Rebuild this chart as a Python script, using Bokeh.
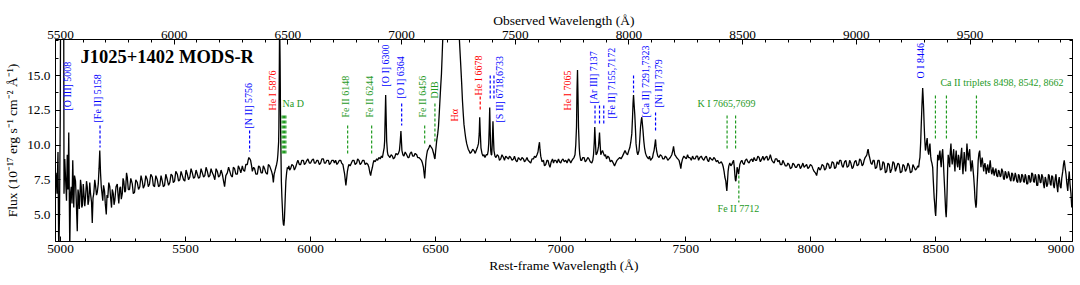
import math
from bokeh.plotting import figure
from bokeh.models import (Range1d, LinearAxis, SingleIntervalTicker, FixedTicker, PrintfTickFormatter,
                          Label, ColumnDataSource, CustomJSTickFormatter)
from bokeh.embed import file_html
from bokeh.resources import INLINE

# ---------------- data ----------------
wave = [4982, 4986, 4990, 4993, 4996, 4999, 5002, 5005, 5008, 5011, 5014, 5017, 5020, 5024, 5027, 5030,
        5033, 5037, 5040, 5043, 5046, 5049, 5053, 5056, 5060, 5063, 5067, 5070, 5072, 5075, 5077, 5080,
        5083, 5085, 5088, 5091, 5093, 5097, 5100, 5104, 5107, 5110, 5113, 5117, 5120, 5124, 5127, 5130,
        5133, 5137, 5140, 5144, 5147, 5151, 5154, 5157, 5160, 5163, 5166, 5169, 5172, 5176, 5179, 5183,
        5186, 5189, 5193, 5197, 5200, 5204, 5207, 5211, 5214, 5217, 5222, 5227, 5230, 5233, 5237, 5240,
        5243, 5247, 5250, 5253, 5257, 5260, 5264, 5267, 5271, 5276, 5281, 5287, 5291, 5296, 5301, 5307,
        5312, 5317, 5322, 5327, 5331, 5336, 5341, 5347, 5351, 5356, 5361, 5367, 5371, 5376, 5381, 5387,
        5392, 5397, 5402, 5407, 5411, 5416, 5421, 5427, 5432, 5437, 5442, 5447, 5451, 5456, 5461, 5467,
        5472, 5477, 5482, 5487, 5492, 5497, 5502, 5507, 5512, 5517, 5522, 5527, 5532, 5537, 5542, 5547,
        5552, 5557, 5562, 5567, 5572, 5577, 5582, 5587, 5592, 5597, 5602, 5607, 5612, 5617, 5622, 5627,
        5632, 5637, 5642, 5647, 5651, 5656, 5661, 5667, 5672, 5677, 5682, 5687, 5691, 5696, 5701, 5707,
        5711, 5716, 5721, 5727, 5731, 5736, 5741, 5747, 5750, 5753, 5757, 5760, 5764, 5767, 5772, 5776,
        5781, 5787, 5792, 5797, 5802, 5807, 5811, 5816, 5821, 5827, 5831, 5836, 5840, 5844, 5848, 5851,
        5854, 5857, 5861, 5864, 5867, 5869, 5872, 5873, 5875, 5876, 5878, 5880, 5883, 5885, 5887, 5889,
        5891, 5893, 5895, 5897, 5899, 5901, 5904, 5907, 5910, 5913, 5916, 5920, 5925, 5931, 5935, 5940,
        5945, 5949, 5955, 5960, 5965, 5971, 5975, 5980, 5985, 5989, 5995, 6000, 6005, 6011, 6015, 6020,
        6025, 6029, 6035, 6040, 6045, 6051, 6055, 6060, 6065, 6071, 6075, 6080, 6085, 6091, 6095, 6100,
        6105, 6109, 6115, 6120, 6124, 6129, 6133, 6136, 6139, 6141, 6144, 6147, 6150, 6153, 6158, 6163,
        6168, 6173, 6178, 6184, 6188, 6193, 6198, 6203, 6208, 6213, 6218, 6224, 6229, 6233, 6237, 6240,
        6243, 6247, 6250, 6253, 6258, 6264, 6268, 6273, 6278, 6283, 6287, 6291, 6294, 6296, 6298, 6300,
        6302, 6304, 6307, 6309, 6313, 6317, 6322, 6327, 6331, 6336, 6341, 6347, 6351, 6355, 6358, 6361,
        6363, 6365, 6369, 6373, 6378, 6384, 6389, 6393, 6398, 6403, 6408, 6413, 6418, 6424, 6428, 6433,
        6438, 6443, 6447, 6451, 6454, 6456, 6458, 6461, 6464, 6467, 6470, 6473, 6477, 6480, 6484, 6487,
        6490, 6493, 6495, 6497, 6500, 6504, 6508, 6511, 6514, 6517, 6520, 6523, 6526, 6530, 6540, 6552,
        6563, 6575, 6587, 6595, 6600, 6604, 6607, 6610, 6613, 6617, 6620, 6624, 6627, 6630, 6633, 6638,
        6643, 6648, 6653, 6658, 6664, 6668, 6671, 6674, 6676, 6678, 6681, 6685, 6689, 6693, 6697, 6702,
        6707, 6710, 6712, 6714, 6716, 6718, 6720, 6722, 6724, 6726, 6729, 6731, 6733, 6737, 6741, 6746,
        6751, 6755, 6760, 6765, 6771, 6775, 6780, 6785, 6791, 6795, 6800, 6805, 6811, 6815, 6820, 6825,
        6831, 6835, 6840, 6845, 6851, 6855, 6860, 6865, 6869, 6875, 6880, 6885, 6891, 6895, 6900, 6905,
        6909, 6912, 6915, 6917, 6920, 6925, 6931, 6935, 6940, 6945, 6949, 6953, 6957, 6962, 6967, 6971,
        6975, 6980, 6985, 6991, 6995, 7000, 7004, 7009, 7014, 7020, 7025, 7031, 7035, 7040, 7045, 7049,
        7053, 7057, 7060, 7063, 7065, 7067, 7069, 7071, 7074, 7076, 7080, 7084, 7088, 7093, 7098, 7103,
        7108, 7113, 7118, 7124, 7128, 7131, 7134, 7136, 7138, 7141, 7145, 7148, 7151, 7155, 7157, 7160,
        7164, 7167, 7171, 7175, 7179, 7183, 7188, 7193, 7198, 7204, 7210, 7215, 7220, 7225, 7230, 7236,
        7241, 7247, 7252, 7257, 7262, 7267, 7272, 7276, 7280, 7284, 7287, 7289, 7291, 7293, 7296, 7299,
        7301, 7305, 7308, 7313, 7316, 7319, 7322, 7324, 7327, 7329, 7332, 7335, 7339, 7343, 7347, 7351,
        7355, 7359, 7363, 7367, 7370, 7373, 7376, 7379, 7381, 7384, 7388, 7393, 7398, 7404, 7408, 7413,
        7418, 7423, 7428, 7433, 7438, 7444, 7448, 7451, 7454, 7456, 7460, 7463, 7468, 7473, 7477, 7480,
        7483, 7487, 7492, 7497, 7502, 7507, 7511, 7516, 7522, 7527, 7532, 7537, 7542, 7547, 7551, 7556,
        7562, 7567, 7572, 7577, 7582, 7587, 7591, 7596, 7601, 7607, 7612, 7617, 7622, 7627, 7632, 7636,
        7642, 7647, 7650, 7653, 7656, 7660, 7662, 7664, 7666, 7669, 7672, 7676, 7680, 7684, 7688, 7691,
        7694, 7696, 7698, 7700, 7703, 7705, 7708, 7711, 7713, 7716, 7720, 7724, 7728, 7733, 7738, 7743,
        7748, 7753, 7758, 7764, 7768, 7773, 7778, 7783, 7788, 7793, 7798, 7804, 7808, 7813, 7818, 7824,
        7828, 7833, 7838, 7844, 7848, 7853, 7858, 7864, 7868, 7873, 7878, 7884, 7888, 7893, 7898, 7904,
        7908, 7913, 7918, 7924, 7928, 7933, 7938, 7943, 7948, 7953, 7958, 7964, 7968, 7973, 7978, 7983,
        7988, 7993, 7998, 8004, 8008, 8013, 8018, 8023, 8027, 8031, 8036, 8040, 8045, 8051, 8055, 8060,
        8065, 8071, 8075, 8080, 8085, 8091, 8095, 8100, 8105, 8111, 8115, 8120, 8125, 8129, 8135, 8140,
        8145, 8151, 8155, 8160, 8165, 8169, 8175, 8180, 8185, 8191, 8195, 8200, 8205, 8209, 8213, 8217,
        8221, 8224, 8227, 8229, 8232, 8235, 8240, 8244, 8249, 8253, 8258, 8263, 8268, 8273, 8278, 8284,
        8288, 8293, 8298, 8303, 8308, 8313, 8318, 8324, 8328, 8333, 8338, 8343, 8348, 8353, 8358, 8364,
        8368, 8373, 8378, 8383, 8388, 8393, 8398, 8404, 8408, 8413, 8418, 8423, 8427, 8431, 8434, 8436,
        8439, 8441, 8444, 8447, 8449, 8451, 8453, 8455, 8458, 8460, 8463, 8465, 8468, 8471, 8474, 8476,
        8479, 8481, 8484, 8487, 8489, 8491, 8493, 8495, 8497, 8499, 8501, 8503, 8505, 8507, 8510, 8512,
        8514, 8516, 8519, 8521, 8524, 8527, 8530, 8532, 8535, 8537, 8539, 8541, 8543, 8545, 8547, 8549,
        8552, 8555, 8557, 8560, 8563, 8565, 8568, 8571, 8573, 8576, 8578, 8581, 8584, 8587, 8590, 8592,
        8595, 8597, 8600, 8603, 8605, 8608, 8611, 8613, 8616, 8619, 8621, 8624, 8627, 8629, 8632, 8635,
        8637, 8640, 8643, 8645, 8648, 8651, 8654, 8656, 8658, 8660, 8662, 8664, 8667, 8669, 8672, 8675,
        8677, 8680, 8682, 8685, 8688, 8691, 8693, 8696, 8699, 8701, 8704, 8707, 8709, 8712, 8715, 8717,
        8720, 8723, 8726, 8728, 8731, 8733, 8737, 8740, 8743, 8747, 8750, 8753, 8757, 8760, 8763, 8767,
        8770, 8773, 8777, 8780, 8783, 8787, 8790, 8793, 8797, 8800, 8803, 8807, 8810, 8813, 8817, 8820,
        8823, 8827, 8830, 8833, 8837, 8840, 8843, 8847, 8850, 8853, 8857, 8860, 8863, 8867, 8870, 8873,
        8877, 8880, 8883, 8887, 8890, 8893, 8897, 8900, 8903, 8907, 8910, 8913, 8917, 8920, 8923, 8927,
        8930, 8933, 8937, 8940, 8943, 8947, 8950, 8953, 8957, 8960, 8963, 8967, 8970, 8973, 8977, 8980,
        8983, 8987, 8990, 8993, 8997, 9000, 9003, 9007, 9010, 9013, 9017, 9020, 9023, 9027, 9030, 9033,
        9036, 9040, 9043]

flux = [8.0, 6.5, 9.5, 2.0, 5.0, 12.0, 30.0, 60.0, 80.0, 40.0, 6.5, 9.0, 7.7, 6.0, 9.3, 6.8,
        10.9, 2.5, 6.5, 7.0, 5.8, 8.9, 5.5, 7.8, 7.4, 6.0, 3.8, 6.8, 6.5, 5.4, 6.0, 7.5,
        7.0, 5.5, 5.7, 7.2, 6.7, 5.6, 6.2, 7.4, 7.0, 5.7, 6.0, 7.3, 6.5, 5.9, 4.4, 6.2,
        6.5, 7.5, 7.1, 6.4, 6.6, 7.2, 8.3, 9.6, 8.0, 7.0, 6.5, 6.0, 7.1, 6.7, 5.8, 5.0,
        6.4, 6.2, 7.3, 7.0, 6.3, 5.5, 6.8, 6.5, 5.7, 6.0, 7.0, 7.2, 6.4, 5.8, 6.9, 7.0,
        6.1, 6.5, 7.6, 7.4, 6.6, 6.7, 8.0, 7.7, 6.8, 6.8, 7.6, 7.2, 6.5, 6.6, 7.5, 7.3,
        6.8, 7.0, 7.8, 7.4, 6.9, 7.1, 7.8, 7.5, 7.0, 7.2, 7.9, 7.7, 7.1, 7.0, 7.8, 7.5,
        7.0, 7.1, 7.8, 7.4, 7.0, 7.1, 7.9, 7.5, 7.1, 7.3, 7.9, 7.8, 7.3, 7.4, 8.1, 7.9,
        7.4, 7.5, 8.1, 7.8, 7.5, 7.4, 8.2, 7.9, 7.5, 7.7, 8.3, 8.0, 7.6, 7.7, 8.2, 7.9,
        7.6, 7.7, 8.3, 8.0, 7.7, 7.8, 8.4, 8.1, 7.7, 7.8, 8.3, 8.0, 7.8, 7.5, 8.3, 8.1,
        7.7, 7.8, 8.2, 7.9, 7.5, 7.0, 7.8, 8.0, 8.4, 8.1, 7.8, 7.7, 8.4, 8.3, 7.9, 7.9,
        8.5, 8.3, 8.0, 8.5, 8.2, 8.1, 8.6, 8.6, 8.9, 9.1, 9.0, 8.9, 8.5, 8.1, 8.4, 8.3,
        7.9, 7.9, 8.5, 8.4, 8.0, 8.0, 8.5, 8.3, 8.0, 7.9, 8.6, 8.5, 8.3, 8.1, 7.8, 7.3,
        7.9, 8.1, 8.4, 8.6, 8.9, 9.3, 10.2, 11.2, 16.0, 19.0, 16.0, 11.2, 7.4, 6.3, 5.5, 4.7,
        4.3, 4.2, 4.6, 5.5, 6.5, 7.4, 8.0, 8.4, 8.3, 8.5, 8.2, 8.3, 8.6, 8.5, 8.2, 8.4,
        8.7, 8.9, 8.6, 8.6, 8.9, 8.9, 8.6, 8.7, 8.9, 9.0, 8.7, 8.7, 8.9, 9.0, 8.7, 8.7,
        8.9, 8.9, 8.6, 8.7, 9.0, 9.0, 8.7, 8.7, 8.9, 8.9, 8.6, 8.7, 8.9, 8.9, 8.7, 8.9,
        8.6, 8.7, 8.9, 8.9, 8.7, 8.6, 8.2, 7.9, 7.4, 7.1, 7.6, 8.1, 8.4, 8.6, 8.5, 8.7,
        8.9, 8.9, 8.6, 8.7, 9.0, 8.9, 8.6, 8.7, 8.9, 8.9, 8.6, 8.7, 8.6, 8.4, 8.0, 7.8,
        8.1, 8.4, 8.7, 8.9, 8.8, 9.0, 8.9, 9.1, 9.0, 9.2, 9.1, 9.5, 9.8, 10.3, 12.0, 13.6,
        12.0, 10.3, 9.5, 9.3, 9.2, 9.1, 9.3, 9.2, 9.0, 9.1, 9.4, 9.3, 9.4, 9.6, 10.2, 11.0,
        10.3, 9.6, 9.3, 9.2, 9.5, 9.3, 9.1, 9.1, 9.4, 9.5, 9.2, 9.2, 9.4, 9.3, 9.1, 9.1,
        9.0, 8.9, 8.7, 8.4, 7.9, 7.6, 8.1, 8.9, 9.3, 9.6, 9.7, 9.8, 10.0, 9.9, 9.8, 9.7,
        9.5, 9.3, 9.1, 9.0, 9.6, 10.3, 10.8, 11.3, 12.2, 13.2, 14.2, 15.1, 16.5, 18.5, 25.0, 38.0,
        45.0, 36.0, 22.0, 17.5, 15.8, 14.4, 13.2, 12.3, 11.5, 10.9, 10.5, 10.1, 9.9, 9.7, 9.6, 9.4,
        9.5, 9.7, 9.6, 9.4, 9.7, 9.9, 10.1, 10.8, 12.0, 11.0, 9.8, 9.4, 9.2, 9.3, 9.1, 9.3,
        9.3, 9.6, 10.1, 11.2, 12.7, 11.0, 9.6, 9.3, 9.3, 10.0, 11.7, 10.5, 9.6, 9.2, 9.1, 9.3,
        9.2, 8.9, 9.0, 9.3, 9.1, 8.9, 9.2, 9.1, 9.0, 9.2, 9.1, 8.9, 9.0, 9.2, 8.9, 8.8,
        9.1, 9.0, 8.9, 9.1, 9.0, 8.8, 8.9, 9.1, 8.9, 8.8, 8.7, 9.0, 9.0, 9.2, 9.1, 9.3,
        9.5, 9.9, 10.2, 9.7, 9.2, 8.8, 8.9, 8.5, 8.6, 8.9, 8.9, 8.6, 8.4, 8.8, 9.0, 8.7,
        8.9, 8.9, 8.7, 9.0, 8.8, 8.7, 8.9, 9.0, 8.8, 8.9, 8.7, 9.0, 8.9, 8.7, 8.9, 9.0,
        9.1, 9.3, 10.0, 11.3, 14.0, 15.4, 13.5, 11.3, 9.8, 9.3, 8.9, 8.9, 9.1, 9.1, 8.8, 8.9,
        9.1, 9.0, 8.8, 8.7, 8.9, 9.3, 10.2, 11.3, 10.5, 9.3, 9.4, 9.6, 9.9, 10.9, 10.2, 9.3,
        9.5, 9.6, 9.4, 9.2, 9.3, 9.0, 9.2, 9.1, 8.8, 8.9, 8.7, 8.5, 8.7, 8.9, 9.0, 9.1,
        9.0, 9.2, 9.4, 9.6, 9.4, 9.3, 9.6, 9.8, 10.2, 10.8, 12.0, 13.0, 13.6, 13.0, 12.2, 11.0,
        10.1, 9.5, 9.3, 9.6, 10.4, 11.3, 11.8, 12.0, 11.4, 11.0, 10.3, 9.8, 9.4, 9.2, 9.1, 9.0,
        9.2, 8.9, 9.0, 9.1, 9.4, 9.6, 10.0, 10.4, 9.9, 9.5, 9.2, 9.1, 9.3, 9.2, 9.0, 9.0,
        9.2, 9.1, 8.9, 9.0, 9.1, 9.3, 9.6, 9.9, 9.5, 9.3, 9.2, 9.1, 9.0, 8.9, 8.6, 8.3,
        8.7, 9.0, 9.2, 9.1, 9.0, 9.3, 9.1, 9.1, 8.9, 9.2, 9.0, 9.0, 9.2, 9.2, 8.9, 9.1,
        9.2, 9.0, 8.9, 9.1, 9.2, 8.9, 8.8, 9.1, 9.0, 8.9, 9.1, 9.0, 8.8, 8.9, 8.7, 8.7,
        8.8, 8.6, 8.4, 8.1, 7.7, 7.4, 7.0, 6.7, 7.2, 8.1, 8.5, 8.7, 8.5, 8.6, 8.8, 8.9,
        8.4, 7.9, 7.5, 7.4, 7.9, 8.4, 8.2, 7.9, 8.2, 8.6, 8.8, 8.9, 8.7, 8.6, 8.9, 9.0,
        8.8, 8.7, 8.9, 9.0, 8.8, 9.1, 8.9, 8.9, 9.2, 9.1, 8.8, 9.0, 9.2, 8.9, 9.1, 9.2,
        8.9, 9.0, 9.3, 8.9, 8.8, 8.7, 9.0, 9.0, 8.8, 8.9, 8.6, 8.6, 8.9, 8.7, 8.5, 8.5,
        8.7, 8.6, 8.3, 8.4, 8.7, 8.6, 8.4, 8.4, 8.6, 8.6, 8.3, 8.5, 8.7, 8.4, 8.5, 8.6,
        8.3, 8.4, 8.6, 8.5, 8.3, 8.1, 8.0, 7.8, 8.2, 8.4, 8.2, 8.3, 8.6, 8.5, 8.2, 8.3,
        8.7, 8.6, 8.3, 8.4, 8.8, 8.7, 8.3, 8.4, 8.8, 8.6, 8.9, 8.9, 8.5, 8.4, 8.8, 8.9,
        8.4, 8.5, 8.9, 8.7, 8.3, 8.4, 8.8, 8.9, 8.5, 8.6, 9.0, 8.9, 8.5, 8.6, 8.9, 9.1,
        9.2, 9.3, 9.6, 9.7, 9.3, 9.1, 8.7, 8.6, 8.9, 8.9, 8.3, 8.4, 8.9, 8.9, 8.2, 8.3,
        8.8, 8.7, 8.0, 8.1, 8.7, 8.6, 8.0, 8.3, 8.8, 8.7, 8.1, 8.4, 8.7, 8.6, 8.0, 8.1,
        8.6, 8.5, 8.1, 8.3, 8.7, 8.5, 8.0, 8.1, 8.6, 8.4, 8.2, 8.3, 8.5, 8.4, 8.9, 9.1,
        10.2, 11.3, 12.8, 14.1, 13.4, 12.5, 11.4, 10.5, 9.6, 9.8, 10.3, 10.5, 9.6, 9.3, 9.9, 10.1,
        9.2, 8.9, 8.7, 8.4, 7.6, 6.9, 6.2, 5.8, 5.2, 4.9, 5.7, 6.7, 8.2, 9.3, 9.0, 8.9,
        9.4, 9.6, 8.8, 8.4, 9.3, 9.7, 8.7, 7.9, 6.8, 6.0, 5.2, 4.8, 5.6, 6.9, 8.4, 9.3,
        8.9, 8.4, 9.4, 10.1, 9.0, 8.6, 9.2, 9.7, 8.8, 8.1, 9.0, 9.6, 8.7, 8.4, 9.3, 9.1,
        8.2, 8.6, 9.3, 9.8, 8.8, 7.9, 8.8, 9.5, 8.7, 8.1, 9.0, 10.1, 9.3, 8.9, 9.4, 9.7,
        8.9, 8.1, 8.6, 8.9, 8.3, 7.7, 6.9, 6.2, 5.8, 5.5, 5.8, 6.9, 8.0, 8.9, 9.4, 9.6,
        9.0, 8.4, 8.8, 9.1, 8.6, 8.1, 8.5, 8.7, 8.3, 7.9, 8.3, 8.6, 8.2, 8.0, 8.6, 8.9,
        8.3, 7.9, 8.1, 8.4, 8.0, 7.8, 8.2, 8.3, 7.8, 7.7, 8.2, 8.1, 7.7, 7.8, 8.3, 8.1,
        7.6, 7.5, 8.1, 8.0, 7.6, 7.7, 8.1, 7.9, 7.5, 7.4, 8.0, 7.9, 7.4, 7.5, 8.0, 7.8,
        7.4, 7.3, 7.9, 7.8, 7.3, 7.4, 7.9, 7.8, 7.4, 7.3, 7.9, 7.7, 7.2, 7.2, 7.8, 7.8,
        7.3, 7.4, 8.0, 7.9, 7.4, 7.3, 7.9, 7.7, 7.1, 7.1, 7.9, 7.8, 7.3, 7.3, 7.9, 7.7,
        7.2, 6.9, 7.7, 7.5, 7.0, 7.2, 7.9, 7.8, 7.2, 7.1, 7.8, 7.7, 7.1, 6.9, 7.6, 7.9,
        7.2, 6.6, 7.4, 7.7, 7.0, 6.9, 7.6, 8.1, 8.6, 8.9, 8.3, 7.9, 7.3, 6.7, 7.5, 8.1,
        7.2, 6.5, 5.5]

redshift = 0.1
rest_tick_step = 500
obs_ticks = [5500, 6000, 6500, 7000, 7500, 8000, 8500, 9000, 9500]
obs_minor = [5600, 5700, 5800, 5900, 6100, 6200, 6300, 6400, 6600, 6700, 6800, 6900,
             7100, 7200, 7300, 7400, 7600, 7700, 7800, 7900, 8100, 8200, 8300, 8400,
             8600, 8700, 8800, 8900, 9100, 9200, 9300, 9400, 9600, 9700, 9800, 9900]
flux_major = [5.0, 7.5, 10.0, 12.5, 15.0]
flux_minor = [3.75, 6.25, 8.75, 11.25, 13.75, 16.25, 17.5]

# ---------------- annotation table (text, wavelength/position, colour) ----------------
BLUE, RED, GREEN = "#0000ff", "#ff0000", "#1f9a1f"

# vertical labels: text, x (A), y bottom (flux), colour
vlabels = [
    ("[O III] 5008", 5028, 12.48, BLUE),
    ("[Fe II] 5158", 5148, 11.62, BLUE),
    ("[N II] 5756", 5752, 11.19, BLUE),
    ("He I 5876", 5848, 12.48, RED),
    ("Fe II 6148", 6139, 11.98, GREEN),
    ("Fe II 6244", 6235, 11.98, GREEN),
    ("[O I] 6300", 6299, 14.2, BLUE),
    ("[O I] 6364", 6359, 13.35, BLUE),
    ("Fe II 6456", 6447, 11.98, GREEN),
    ("DIB", 6495, 13.35, GREEN),
    ("H\u03b1", 6575, 11.69, RED),
    ("He I 6678", 6671, 13.56, RED),
    ("[S II] 6718,6733", 6755, 11.62, BLUE),
    ("He I 7065", 7027, 12.48, RED),
    ("[Ar III] 7137", 7131, 12.99, BLUE),
    ("[Fe II] 7155,7172", 7203, 11.91, BLUE),
    ("[Ca II] 7291,7323", 7339, 11.98, BLUE),
    ("[Ni II] 7379", 7391, 12.70, BLUE),
    ("O I 8446", 8438, 14.78, BLUE),
]
# horizontal labels: text, x left (A), y centre (flux), colour
hlabels = [
    ("Na D", 5888, 12.99, GREEN),
    ("K I 7665,7699", 7547, 12.99, GREEN),
    ("Fe II 7712", 7627, 5.43, GREEN),
    ("Ca II triplets 8498, 8542, 8662", 8518, 14.50, GREEN),
]
# dashed line markers: wavelength, y0, y1, colour
marks = [
    (5158, 11.40, 9.82, BLUE),
    (5756, 11.04, 9.53, BLUE),
    (5886, 12.12, 9.24, GREEN), (5891, 12.12, 9.24, GREEN),
    (5896, 12.12, 9.24, GREEN), (5901, 12.12, 9.24, GREEN),
    (6148, 11.40, 9.24, GREEN),
    (6244, 11.40, 9.24, GREEN),
    (6364, 12.99, 11.40, BLUE),
    (6456, 11.40, 9.96, GREEN),
    (6497, 12.99, 10.18, GREEN),
    (6678, 13.49, 12.48, RED),
    (6718, 15.0, 13.2, BLUE), (6733, 15.0, 13.2, BLUE),
    (7137, 12.84, 11.55, BLUE), (7155, 12.84, 11.55, BLUE), (7172, 12.84, 11.55, BLUE),
    (7291, 15.0, 13.78, BLUE),
    (7379, 12.34, 10.90, BLUE),
    (7665, 12.12, 9.60, GREEN), (7699, 12.12, 9.60, GREEN),
    (7712, 7.80, 5.86, GREEN),
    (8498, 13.56, 10.32, GREEN), (8542, 13.56, 10.32, GREEN), (8662, 13.56, 10.32, GREEN),
]

FONT = "Liberation Serif"
XMIN, XMAX = 4980, 9046
YMIN, YMAX = 3.06, 17.59

p = figure(width=1080, height=285, output_backend="svg", toolbar_location=None,
           x_range=Range1d(XMIN, XMAX), y_range=Range1d(YMIN, YMAX),
           min_border_left=55, min_border_right=8, min_border_top=39, min_border_bottom=44,
           x_axis_label="Rest-frame Wavelength (\u00c5)",
           y_axis_label="Flux (10\u207b\u00b9\u2077 erg s\u207b\u00b9 cm\u207b\u00b2 \u00c5\u207b\u00b9)")
p.extra_x_ranges = {"obs": Range1d(XMIN * (1 + redshift), XMAX * (1 + redshift))}
p.grid.visible = False
p.outline_line_color = "black"
p.background_fill_color = "white"
p.border_fill_color = "white"


def style_axis(ax):
    ax.axis_line_color = "black"
    ax.major_tick_line_color = "black"
    ax.minor_tick_line_color = "black"
    ax.major_tick_in = 5
    ax.major_tick_out = 0
    ax.minor_tick_in = 3
    ax.minor_tick_out = 0
    ax.major_label_text_font = FONT
    ax.major_label_text_font_size = "13.3px"
    ax.major_label_text_color = "black"
    ax.axis_label_text_font = FONT
    ax.axis_label_text_font_size = "13.5px"
    ax.axis_label_text_font_style = "normal"
    ax.axis_label_text_color = "black"


xb = p.xaxis[0]
xb.ticker = SingleIntervalTicker(interval=rest_tick_step, num_minor_ticks=5)
xb.formatter = PrintfTickFormatter(format="%d")
style_axis(xb)
xb.major_label_standoff = 3
xb.axis_label_standoff = 2

yl = p.yaxis[0]
yl.ticker = FixedTicker(ticks=flux_major, minor_ticks=flux_minor)
yl.formatter = PrintfTickFormatter(format="%.1f")
style_axis(yl)
yl.major_label_standoff = 5
yl.axis_label_standoff = 4

xt = LinearAxis(x_range_name="obs", axis_label="Observed Wavelength (\u00c5)",
                ticker=FixedTicker(ticks=obs_ticks, minor_ticks=obs_minor),
                formatter=PrintfTickFormatter(format="%d"))
style_axis(xt)
xt.major_label_standoff = 1
xt.axis_label_standoff = 0
p.add_layout(xt, "above")

yr = LinearAxis(ticker=FixedTicker(ticks=flux_major, minor_ticks=flux_minor),
                formatter=CustomJSTickFormatter(code="return ''"))
style_axis(yr)
yr.major_label_text_font_size = "0px"
yr.major_label_standoff = 0
p.add_layout(yr, "right")

# spectrum
p.line(wave, flux, line_color="black", line_width=1.3)

# dashed markers
msrc = ColumnDataSource(dict(x=[m[0] for m in marks], y0=[m[1] for m in marks],
                             y1=[m[2] for m in marks], c=[m[3] for m in marks]))
p.segment(x0="x", y0="y0", x1="x", y1="y1", color="c", source=msrc,
          line_width=1.2, line_dash="3 2")

for t, x, y, c in vlabels:
    p.add_layout(Label(x=x, y=y, text=t, angle=math.pi / 2, text_align="left",
                       text_baseline="middle", text_font=FONT, text_font_size="10px",
                       text_color=c))
for t, x, y, c in hlabels:
    p.add_layout(Label(x=x, y=y, text=t, text_align="left", text_baseline="middle",
                       text_font=FONT, text_font_size="10px", text_color=c))

p.add_layout(Label(x=5080, y=16.30, text="J1025+1402 MODS-R", text_align="left",
                   text_baseline="middle", text_font=FONT, text_font_size="18.5px",
                   text_font_style="bold", text_color="black"))

open("out.html", "w").write(file_html(p, INLINE))
